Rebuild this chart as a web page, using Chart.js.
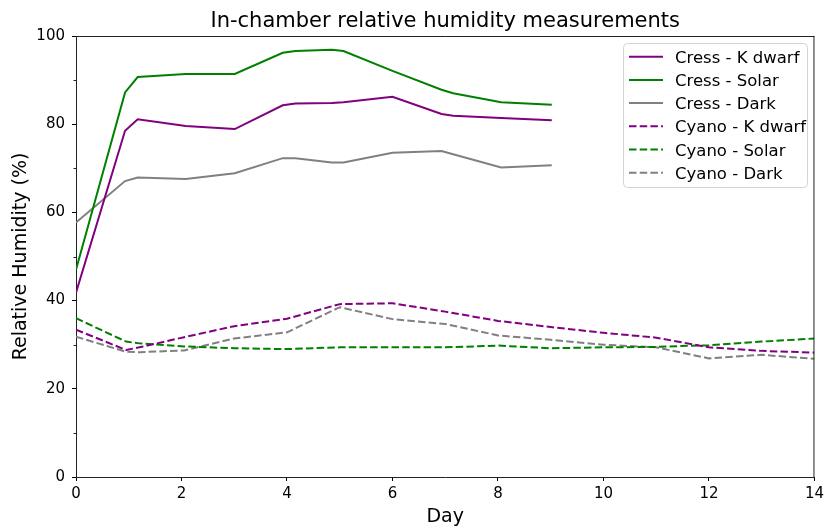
<!DOCTYPE html>
<html>
<head>
<meta charset="utf-8">
<script src="https://cdn.jsdelivr.net/npm/chart.js@4"></script>
<style>
  html, body { margin: 0; padding: 0; background: #fff; }
  #wrap { width: 828px; height: 529px; }
</style>
</head>
<body>
<div id="wrap"><canvas id="canvasHumidity" width="828" height="529"></canvas></div>
<script>
"use strict";

// Cress measurements (days and % RH)
var cressDays = [0, 0.93, 1.17, 2.08, 3.01, 3.92, 4.16, 4.85, 5.07, 6.0, 6.93, 7.15, 8.06, 9.02];
var cressKdwarf = [41.8, 78.5, 81.1, 79.6, 78.9, 84.3, 84.7, 84.8, 85.0, 86.2, 82.3, 81.9, 81.4, 80.9];
var cressSolar = [47.0, 87.2, 90.7, 91.4, 91.4, 96.2, 96.6, 96.9, 96.6, 92.1, 87.8, 87.0, 85.0, 84.4];
var cressDark = [57.7, 67.1, 67.9, 67.6, 68.9, 72.3, 72.3, 71.3, 71.3, 73.5, 73.9, 73.2, 70.2, 70.7];

// Cyano measurements
var cyanoDays = [0, 0.95, 1.2, 2.05, 3.0, 4.0, 5.0, 6.0, 7.0, 8.0, 9.0, 10.0, 11.0, 12.0, 13.0, 14.0];
var cyanoKdwarf = [33.4, 28.8, 29.4, 31.7, 34.2, 35.9, 39.2, 39.4, 37.5, 35.4, 34.0, 32.7, 31.6, 29.4, 28.6, 28.2];
var cyanoSolar = [36.0, 30.7, 30.3, 29.6, 29.2, 29.0, 29.4, 29.4, 29.4, 29.8, 29.2, 29.4, 29.5, 29.9, 30.7, 31.4];
var cyanoDark = [31.8, 28.4, 28.3, 28.7, 31.4, 32.8, 38.5, 35.8, 34.7, 32.1, 31.1, 30.0, 29.4, 26.9, 27.7, 26.8];

var xTicks = [0, 2, 4, 6, 8, 10, 12, 14];
var yTicks = [0, 20, 40, 60, 80, 100];
var yMinorTicks = [10, 30, 50, 70, 90];

var seriesColors = {
	kdwarf: '#800080',
	solar: '#008000',
	dark: '#808080'
};
var dashPattern = [7.5, 3.2];

function ToPoints(days, values) {
	var points = [];
	for (var i = 0; i < days.length; i++) {
		points.push({ x: days[i], y: values[i] });
	}
	return points;
}

function MakeDataset(label, days, values, color, dashed) {
	return {
		label: label,
		data: ToPoints(days, values),
		borderColor: color,
		backgroundColor: color,
		borderWidth: 2,
		borderDash: dashed ? dashPattern : [],
		pointRadius: 0,
		tension: 0,
		fill: false
	};
}

// frame, minor ticks and legend box drawn on top of the chart
var extrasPlugin = {
	id: 'extras',
	afterDraw: function (chart) {
		var ctx = chart.ctx;
		var area = chart.chartArea;
		var yScale = chart.scales.y;

		ctx.save();
		ctx.strokeStyle = '#222';
		ctx.lineWidth = 1;
		ctx.beginPath();
		ctx.moveTo(area.left, area.top + 0.5);
		ctx.lineTo(area.right, area.top + 0.5);
		ctx.moveTo(area.right - 0.5, area.top);
		ctx.lineTo(area.right - 0.5, area.bottom);
		ctx.stroke();

		// minor y ticks
		ctx.beginPath();
		yMinorTicks.forEach(function (v) {
			var py = Math.round(yScale.getPixelForValue(v)) + 0.5;
			ctx.moveTo(area.left - 2.5, py);
			ctx.lineTo(area.left, py);
		});
		ctx.stroke();

		// legend
		var boxX = 623.5, boxY = 43.5, boxW = 184, boxH = 144, r = 4;
		ctx.beginPath();
		ctx.moveTo(boxX + r, boxY);
		ctx.lineTo(boxX + boxW - r, boxY);
		ctx.arcTo(boxX + boxW, boxY, boxX + boxW, boxY + r, r);
		ctx.lineTo(boxX + boxW, boxY + boxH - r);
		ctx.arcTo(boxX + boxW, boxY + boxH, boxX + boxW - r, boxY + boxH, r);
		ctx.lineTo(boxX + r, boxY + boxH);
		ctx.arcTo(boxX, boxY + boxH, boxX, boxY + boxH - r, r);
		ctx.lineTo(boxX, boxY + r);
		ctx.arcTo(boxX, boxY, boxX + r, boxY, r);
		ctx.closePath();
		ctx.fillStyle = 'rgba(255,255,255,0.8)';
		ctx.fill();
		ctx.strokeStyle = '#d4d4d4';
		ctx.stroke();

		ctx.font = '16.5px "DejaVu Sans"';
		ctx.textBaseline = 'alphabetic';
		ctx.textAlign = 'left';
		chart.data.datasets.forEach(function (ds, i) {
			var rowY = 56.7 + i * 23.2;
			ctx.strokeStyle = ds.borderColor;
			ctx.lineWidth = 2;
			ctx.setLineDash(ds.borderDash);
			ctx.beginPath();
			ctx.moveTo(629, rowY);
			ctx.lineTo(663, rowY);
			ctx.stroke();
			ctx.setLineDash([]);
			ctx.fillStyle = '#000';
			ctx.fillText(ds.label, 675, rowY + 6);
		});
		ctx.restore();
	}
};

Chart.defaults.font.family = '"DejaVu Sans", sans-serif';
Chart.defaults.color = '#000';

const context = document.getElementById('canvasHumidity');
const myChart = new Chart(context, {
	type: 'line',
	data: {
		datasets: [
			MakeDataset('Cress - K dwarf', cressDays, cressKdwarf, seriesColors.kdwarf, false),
			MakeDataset('Cress - Solar', cressDays, cressSolar, seriesColors.solar, false),
			MakeDataset('Cress - Dark', cressDays, cressDark, seriesColors.dark, false),
			MakeDataset('Cyano - K dwarf', cyanoDays, cyanoKdwarf, seriesColors.kdwarf, true),
			MakeDataset('Cyano - Solar', cyanoDays, cyanoSolar, seriesColors.solar, true),
			MakeDataset('Cyano - Dark', cyanoDays, cyanoDark, seriesColors.dark, true)
		]
	},
	options: {
		responsive: false,
		animation: false,
		devicePixelRatio: 1,
		layout: {
			padding: { left: 0, right: 12, top: 0, bottom: 0 }
		},
		plugins: {
			legend: { display: false },
			tooltip: { enabled: false },
			title: {
				display: true,
				text: 'In-chamber relative humidity measurements',
				fullSize: false,
				color: '#000',
				font: { size: 21, weight: 'normal' },
				padding: { top: 8.8, bottom: 2 }
			}
		},
		scales: {
			x: {
				type: 'linear',
				min: 0,
				max: 14,
				afterFit: function (scale) { scale.height = 52; },
				afterBuildTicks: function (scale) {
					scale.ticks = xTicks.map(function (v) { return { value: v }; });
				},
				ticks: { font: { size: 15 }, color: '#000', padding: 4, maxRotation: 0 },
				grid: { drawOnChartArea: false, drawTicks: true, tickLength: 4, tickColor: '#000' },
				border: { display: true, color: '#222', width: 1 },
				title: {
					display: true,
					text: 'Day',
					color: '#000',
					font: { size: 19 },
					padding: { top: 0, bottom: 1 }
				}
			},
			y: {
				type: 'linear',
				min: 0,
				max: 100,
				afterFit: function (scale) { scale.width = 76; },
				afterBuildTicks: function (scale) {
					scale.ticks = yTicks.map(function (v) { return { value: v }; });
				},
				ticks: { font: { size: 15 }, color: '#000', padding: 7 },
				grid: { drawOnChartArea: false, drawTicks: true, tickLength: 4, tickColor: '#000' },
				border: { display: true, color: '#222', width: 1 },
				title: {
					display: true,
					text: 'Relative Humidity (%)',
					color: '#000',
					font: { size: 19 },
					padding: { top: 10, bottom: 0 }
				}
			}
		}
	},
	plugins: [extrasPlugin]
});
</script>
</body>
</html>
